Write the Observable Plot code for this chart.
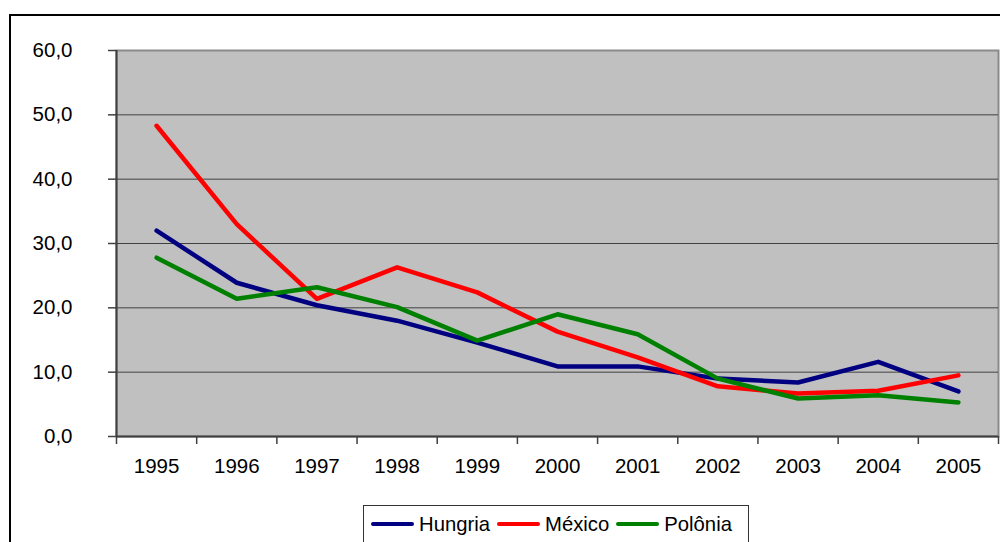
<!DOCTYPE html>
<html>
<head>
<meta charset="utf-8">
<script src="https://cdn.jsdelivr.net/npm/d3@7"></script>
<script src="https://cdn.jsdelivr.net/npm/@observablehq/plot@0.6"></script>
<style>
  html, body { margin: 0; padding: 0; background: #fff; overflow: hidden; }
  #wrap { position: relative; width: 1000px; height: 542px; font-family: "Liberation Sans", Arial, sans-serif; }
  #outer { position: absolute; left: 9px; top: 14px; width: 1000px; height: 600px; border-left: 2px solid #000; border-top: 2px solid #000; }
  #chart { position: absolute; left: 0; top: 0; }
  #legend { position: absolute; left: 363px; top: 505px; width: 386px; height: 60px; border: 1px solid #333; background: #fff;
            box-sizing: border-box; display: flex; align-items: flex-start; padding-top: 4px; padding-left: 7px; font-size: 20.3px; color: #000; }
  .item { display: flex; align-items: center; margin-right: 7px; height: 28px; }
  .sw { width: 43px; height: 4px; border-radius: 2px; margin-right: 5px; }
</style>
</head>
<body>
<div id="wrap">
  <div id="outer"></div>
  <div id="chart"></div>
  <div id="legend"></div>
</div>
<script>
const years = [1995, 1996, 1997, 1998, 1999, 2000, 2001, 2002, 2003, 2004, 2005];
const hungria = [32.0, 23.9, 20.4, 18.0, 14.6, 10.9, 10.9, 9.0, 8.4, 11.6, 7.0];
const mexico  = [48.3, 33.0, 21.4, 26.3, 22.4, 16.3, 12.3, 7.8, 6.7, 7.1, 9.5];
const polonia = [27.8, 21.4, 23.2, 20.1, 14.9, 19.0, 15.9, 9.0, 5.9, 6.4, 5.3];
const seriesNames = ["Hungria", "México", "Polônia"];
const seriesColors = ["#000080", "#ff0000", "#008000"];
const yTicks = [0, 10, 20, 30, 40, 50, 60];

const seriesValues = [hungria, mexico, polonia];
const data = seriesNames.flatMap((name, i) => years.map((year, j) => ({series: name, year, value: seriesValues[i][j]})));
const boundaries = years.map(y => y - 0.5).concat([years[years.length - 1] + 0.5]);
const fmt = d => d.toFixed(1).replace(".", ",");

const chart = Plot.plot({
  width: 1000,
  height: 542,
  marginLeft: 116,
  marginRight: 2,
  marginTop: 50,
  marginBottom: 106,
  style: { background: "transparent", fontFamily: "'Liberation Sans', Arial, sans-serif", fontSize: "20.5px", color: "#000" },
  x: { domain: [years[0] - 0.5, years[years.length - 1] + 0.5], label: null },
  y: { domain: [0, 60], label: null },
  color: { domain: seriesNames, range: seriesColors },
  marks: [
    Plot.frame({ fill: "#c0c0c0", stroke: "#8a8a8a", strokeWidth: 2 }),
    Plot.gridY(yTicks.filter(t => t > 0 && t < 60), { stroke: "#404040", strokeOpacity: 1, strokeWidth: 1 }),
    Plot.line(data, { x: "year", y: "value", stroke: "series", strokeWidth: 4.5, strokeLinejoin: "round", strokeLinecap: "round" }),
    Plot.ruleX([years[0] - 0.5], { stroke: "#404040", strokeWidth: 2 }),
    Plot.ruleY([0], { stroke: "#404040", strokeWidth: 2 }),
    Plot.axisY({ ticks: yTicks, tickSize: 8, tickPadding: 36, tickFormat: fmt, stroke: "#404040", strokeWidth: 1.5, fill: "#000" }),
    Plot.axisX({ ticks: boundaries, tickSize: 8, tickFormat: () => "", stroke: "#404040", strokeWidth: 1.5 }),
    Plot.axisX({ ticks: years, tickSize: 0, tickPadding: 22, tickFormat: d => String(d), fill: "#000" })
  ]
});
document.getElementById("chart").appendChild(chart);

const legend = document.getElementById("legend");
seriesNames.forEach((name, i) => {
  const item = document.createElement("div");
  item.className = "item";
  const sw = document.createElement("span");
  sw.className = "sw";
  sw.style.background = seriesColors[i];
  const label = document.createElement("span");
  label.textContent = name;
  item.appendChild(sw);
  item.appendChild(label);
  legend.appendChild(item);
});
</script>
</body>
</html>
